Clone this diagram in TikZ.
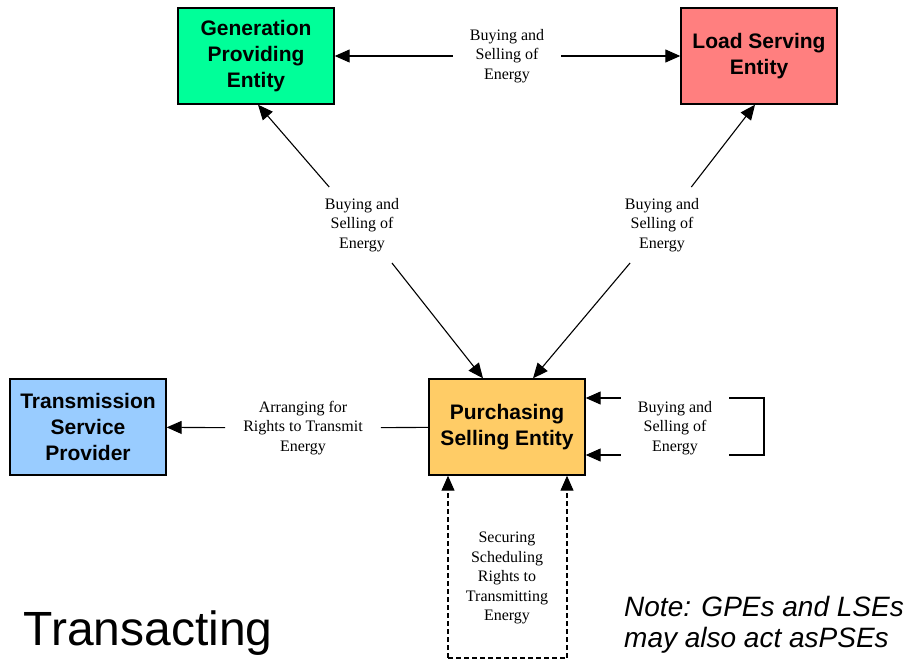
\documentclass[tikz,border=0pt]{standalone}
\usepackage{fontspec}
\setmainfont{Liberation Serif}
\setsansfont{Liberation Sans}
\usepackage{xcolor}
\usetikzlibrary{arrows.meta}
\definecolor{gpegreen}{HTML}{00FF99}
\definecolor{lsered}{HTML}{FF7F7F}
\definecolor{tspblue}{HTML}{99CCFF}
\definecolor{pseorange}{HTML}{FFCC66}

\begin{document}
\begin{tikzpicture}[x=1pt,y=-1pt,
    entity/.style={draw,line width=1.4pt,minimum width=156pt,minimum height=96pt,align=center,inner sep=2pt,font=\sffamily\bfseries\fontsize{21}{26}\selectfont},
    deal/.style={align=center,inner xsep=17pt,inner ysep=10pt,font=\fontsize{16}{19.5}\selectfont},
    arr/.style={line width=1.1pt,-{Triangle[length=15pt,width=13pt]}},
    plain/.style={line width=1.1pt}]
    \useasboundingbox (0,0) rectangle (907,661);
    % the four entities
    \node[entity,fill=gpegreen] (gpe) at (256,56) {Generation\\Providing\\Entity};
    \node[entity,fill=lsered] (lse) at (759,56) {Load Serving\\Entity};
    \node[entity,fill=tspblue] (tsp) at (88,427) {Transmission\\Service\\Provider};
    \node[entity,fill=pseorange] (pse) at (507,427) {Purchasing\\Selling Entity};
    % labels on the connectors
    \node[deal] (lblTop) at (507,56) {Buying and\\Selling of\\Energy};
    \node[deal,inner ysep=11pt] (lblL) at (362,225) {Buying and\\Selling of\\Energy};
    \node[deal,inner ysep=11pt] (lblR) at (662,225) {Buying and\\Selling of\\Energy};
    \node[deal,inner xsep=18pt] (lblT) at (303,428) {Arranging for\\Rights to Transmit\\Energy};
    \node[deal] (lblS) at (675,428) {Buying and\\Selling of\\Energy};
    \node[deal] (lblD) at (507,578) {Securing\\Scheduling\\Rights to\\Transmitting\\Energy};
    \coordinate (loopA) at (764,398);
    \coordinate (loopB) at (764,455);
    \coordinate (dashL) at (448,658);
    \coordinate (dashR) at (567,658);
    % connectors
    \draw[arr] (lblTop) -- (gpe);
    \draw[arr] (lblTop) -- (lse);
    \draw[arr] (lblL) -- ([xshift=2pt]gpe.south);
    \draw[arr] (lblL) -- ([xshift=-24pt]pse.north);
    \draw[arr] (lblR) -- ([xshift=-4pt]lse.south);
    \draw[arr] (lblR) -- ([xshift=26pt]pse.north);
    \draw[plain] (pse) -- (lblT);
    \draw[arr] (lblT) -- (tsp);
    \draw[arr] (lblS.west |- loopA) -- (pse.east |- loopA);
    \draw[arr] (lblS.west |- loopB) -- (pse.east |- loopB);
    \draw[plain] (lblS.east |- loopA) -- (loopA) -- (loopB) -- (lblS.east |- loopB);
    \draw[arr,dash pattern=on 5pt off 3pt] (dashL) -- (pse.south -| dashL);
    \draw[arr,dash pattern=on 5pt off 3pt] (dashR) -- (pse.south -| dashR);
    \draw[plain,dash pattern=on 5pt off 3pt] (dashL) -- (dashR);
    % captions
    \node[font=\sffamily\fontsize{48}{52}\selectfont] (title) at (148,633) {Transacting};
    \node[align=left,font=\sffamily\itshape\fontsize{28}{31}\selectfont] (note) at (764,625) {Note: GPEs and LSEs\\may also act asPSEs};
\end{tikzpicture}
\end{document}
